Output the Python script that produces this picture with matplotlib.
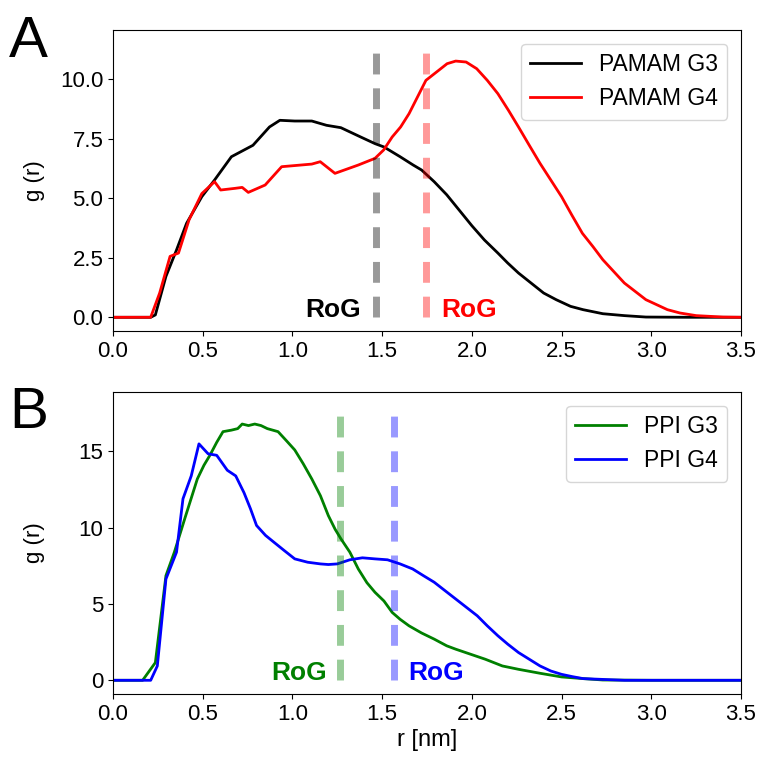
import matplotlib
matplotlib.use('Agg')
import matplotlib.pyplot as plt
import numpy as np

plt.rcParams['font.family'] = ['Liberation Sans', 'DejaVu Sans']

# --- data (r in nm, g(r)) ---
r_g3 = [0.0, 0.21, 0.236, 0.295, 0.354, 0.41, 0.495, 0.566, 0.66, 0.78, 0.872, 0.93, 1.013,
        1.108, 1.19, 1.27, 1.38, 1.46, 1.51, 1.60, 1.673, 1.72, 1.79, 1.86, 1.93, 2.0, 2.07,
        2.145, 2.20, 2.26, 2.33, 2.40, 2.47, 2.55, 2.62, 2.73, 2.85, 2.97, 3.2, 3.5]
g_g3 = [0.0, 0.0, 0.1, 1.72, 2.83, 3.95, 5.07, 5.77, 6.75, 7.23, 8.0, 8.28, 8.25,
        8.25, 8.07, 7.97, 7.58, 7.3, 7.16, 6.75, 6.4, 6.19, 5.7, 5.15, 4.5, 3.85, 3.25,
        2.7, 2.28, 1.86, 1.44, 1.02, 0.74, 0.46, 0.32, 0.15, 0.07, 0.01, 0.0, 0.0]

r_g4 = [0.0, 0.21, 0.26, 0.318, 0.365, 0.424, 0.495, 0.566, 0.60, 0.68, 0.72, 0.754, 0.848,
        0.94, 1.108, 1.155, 1.237, 1.367, 1.46, 1.508, 1.556, 1.603, 1.65, 1.697, 1.744,
        1.815, 1.862, 1.91, 1.968, 2.027, 2.086, 2.145, 2.204, 2.26, 2.32, 2.38, 2.44,
        2.50, 2.557, 2.616, 2.675, 2.73, 2.79, 2.85, 2.91, 2.97, 3.03, 3.09, 3.16, 3.25,
        3.4, 3.5]
g_g4 = [0.0, 0.0, 1.02, 2.56, 2.7, 4.1, 5.2, 5.7, 5.35, 5.42, 5.46, 5.25, 5.56,
        6.33, 6.44, 6.54, 6.05, 6.4, 6.68, 7.03, 7.58, 8.0, 8.56, 9.26, 9.96,
        10.38, 10.66, 10.77, 10.73, 10.45, 9.96, 9.4, 8.7, 8.0, 7.23, 6.47, 5.77,
        5.07, 4.3, 3.53, 2.97, 2.42, 1.93, 1.44, 1.09, 0.74, 0.53, 0.32, 0.18, 0.07,
        0.01, 0.0]

r_ppi3 = [0.0, 0.165, 0.236, 0.295, 0.342, 0.40, 0.47, 0.507, 0.54, 0.578, 0.613, 0.66,
          0.695, 0.72, 0.755, 0.79, 0.825, 0.86, 0.92, 0.967, 1.013, 1.06, 1.108, 1.156,
          1.20, 1.238, 1.27, 1.32, 1.367, 1.415, 1.46, 1.51, 1.556, 1.60, 1.65, 1.72,
          1.79, 1.86, 1.91, 2.075, 2.17, 2.26, 2.38, 2.5, 2.62, 2.73, 3.0, 3.5]
g_ppi3 = [0.0, 0.0, 1.16, 6.86, 8.4, 10.6, 13.2, 14.1, 14.75, 15.6, 16.3, 16.4,
          16.5, 16.8, 16.7, 16.8, 16.7, 16.5, 16.3, 15.7, 15.1, 14.2, 13.2, 12.1,
          10.8, 9.9, 9.28, 8.4, 7.3, 6.4, 5.77, 5.2, 4.45, 4.0, 3.57, 3.1,
          2.7, 2.26, 2.04, 1.38, 0.94, 0.72, 0.46, 0.22, 0.11, 0.02, 0.0, 0.0]

r_ppi4 = [0.0, 0.21, 0.247, 0.295, 0.354, 0.39, 0.436, 0.479, 0.53, 0.578, 0.637, 0.684,
          0.73, 0.766, 0.80, 0.85, 0.896, 0.955, 1.013, 1.085, 1.156, 1.20, 1.25, 1.32,
          1.39, 1.46, 1.53, 1.6, 1.67, 1.73, 1.79, 1.85, 1.91, 1.97, 2.03, 2.086, 2.145,
          2.2, 2.26, 2.32, 2.38, 2.44, 2.5, 2.56, 2.62, 2.85, 3.5]
g_ppi4 = [0.0, 0.0, 0.94, 6.64, 8.4, 11.9, 13.4, 15.5, 14.85, 14.75, 13.77, 13.4,
          12.3, 11.25, 10.15, 9.5, 9.06, 8.5, 7.96, 7.74, 7.63, 7.59, 7.63, 7.9,
          8.03, 7.96, 7.9, 7.63, 7.3, 6.86, 6.43, 5.88, 5.33, 4.78, 4.23, 3.57, 2.92,
          2.37, 1.82, 1.38, 0.94, 0.61, 0.39, 0.24, 0.11, 0.0, 0.0]

rog_pamam = [1.464, 1.744]
rog_ppi = [1.267, 1.565]

fig = plt.figure(figsize=(7.61, 7.64), dpi=100)
ax1 = fig.add_axes([0.1485, 0.5668, 0.8252, 0.3939])
ax2 = fig.add_axes([0.1485, 0.0916, 0.8252, 0.3953])

dash = (0, (3, 2))

# panel A
ax1.plot(r_g3, g_g3, color='black', lw=2, label='PAMAM G3')
ax1.plot(r_g4, g_g4, color='red', lw=2, label='PAMAM G4')
ax1.vlines(rog_pamam[0], 0, 11.5, colors='black', alpha=0.4, lw=5, linestyles=dash)
ax1.vlines(rog_pamam[1], 0, 11.5, colors='red', alpha=0.4, lw=5, linestyles=dash)
ax1.text(rog_pamam[0] - 0.085, 0, 'RoG', color='black', fontsize=19, fontweight='bold',
         ha='right', va='baseline')
ax1.text(rog_pamam[1] + 0.085, 0, 'RoG', color='red', fontsize=19, fontweight='bold',
         ha='left', va='baseline')
ax1.set_xlim(0, 3.5)
ax1.set_ylim(-0.575, 12.075)
ax1.set_yticks([0, 2.5, 5, 7.5, 10])
ax1.set_ylabel('g (r)', fontsize=16)

# panel B
ax2.plot(r_ppi3, g_ppi3, color='green', lw=2, label='PPI G3')
ax2.plot(r_ppi4, g_ppi4, color='blue', lw=2, label='PPI G4')
ax2.vlines(rog_ppi[0], 0, 18, colors='green', alpha=0.4, lw=5, linestyles=dash)
ax2.vlines(rog_ppi[1], 0, 18, colors='blue', alpha=0.4, lw=5, linestyles=dash)
ax2.text(rog_ppi[0] - 0.075, 0, 'RoG', color='green', fontsize=19, fontweight='bold',
         ha='right', va='baseline')
ax2.text(rog_ppi[1] + 0.08, 0, 'RoG', color='blue', fontsize=19, fontweight='bold',
         ha='left', va='baseline')
ax2.set_xlim(0, 3.5)
ax2.set_ylim(-0.9, 18.9)
ax2.set_yticks([0, 5, 10, 15])
ax2.set_ylabel('g (r)', fontsize=16)
ax2.set_xlabel('r [nm]', fontsize=17, labelpad=3)

for ax in (ax1, ax2):
    ax.set_xticks(np.arange(0, 3.51, 0.5))
    ax.tick_params(labelsize=16)
    ax.yaxis.set_label_coords(-0.108, 0.5)
    ax.legend(loc='upper right', fontsize=16.5, handlelength=2.2, borderaxespad=0.6)

fig.text(0.012, 1 - 57 / 764, 'A', fontsize=42, va='baseline', ha='left')
fig.text(0.012, 1 - 428 / 764, 'B', fontsize=42, va='baseline', ha='left')

fig.savefig('out.png', dpi=100, facecolor='white')
